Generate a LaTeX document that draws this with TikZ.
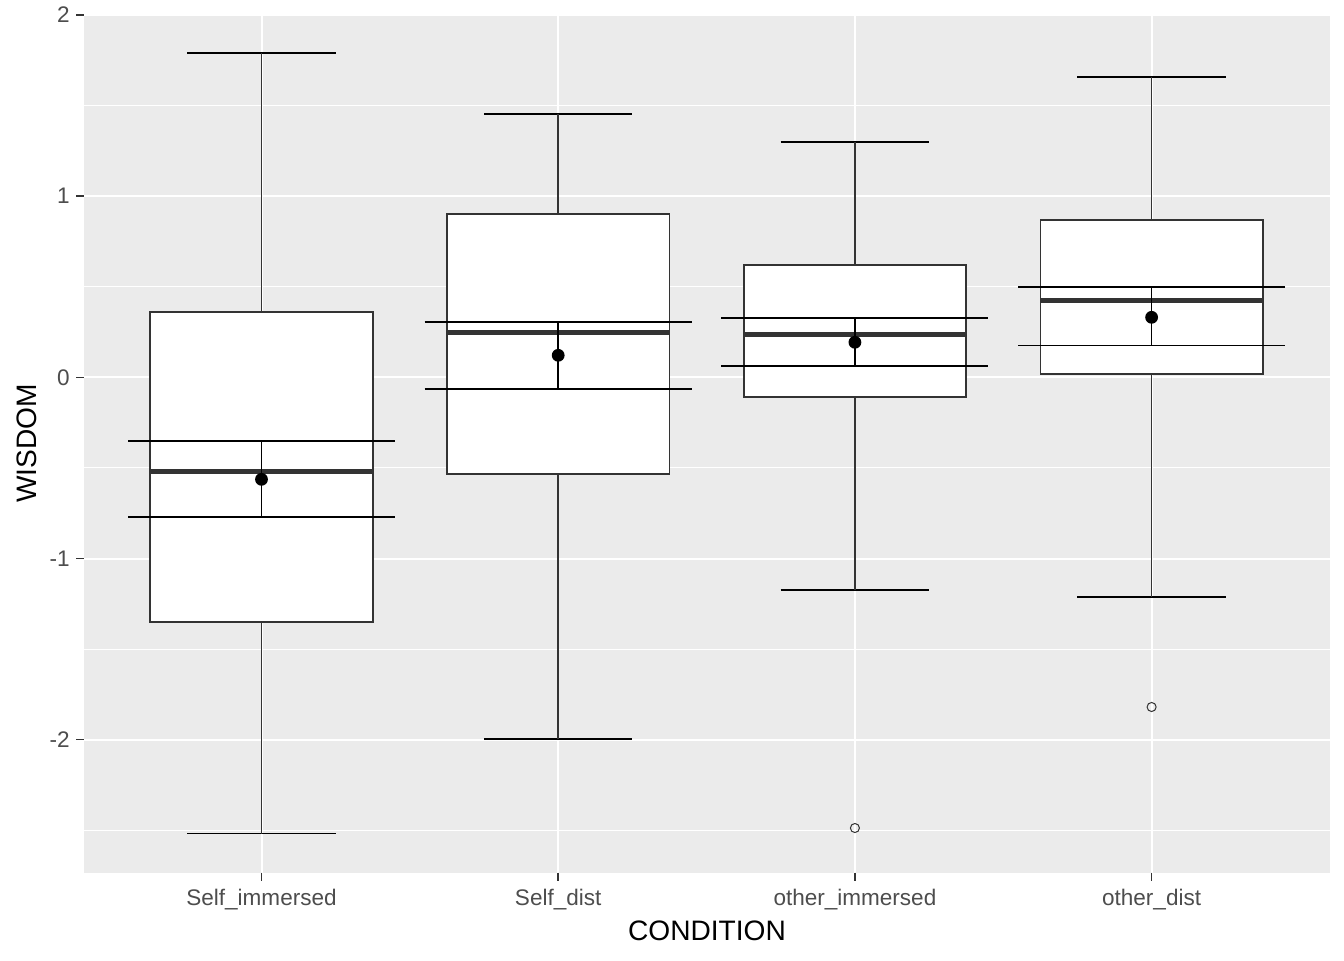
\documentclass[tikz,border=0pt]{standalone}
\usepackage{fontspec}
\setmainfont{Liberation Sans}
\definecolor{panelbg}{HTML}{EBEBEB}
\definecolor{gtwenty}{HTML}{333333}
\definecolor{gthirty}{HTML}{4D4D4D}
\begin{document}
\begin{tikzpicture}[x=0.75pt,y=-0.75pt,
 ticklab/.style={text=gthirty,font=\fontsize{16.9}{18}\selectfont,inner sep=0pt},
 axtitle/.style={text=black,font=\fontsize{21.1}{24}\selectfont,inner sep=0pt},
 majorgrid/.style={white,line width=1.5pt},
 minorgrid/.style={white,line width=0.75pt},
 boxsty/.style={fill=white,draw=gtwenty,line width=1.3pt},
 medsty/.style={gtwenty,line width=3.4pt},
 whisk/.style={gtwenty,line width=1.15pt},
 capsty/.style={black,line width=1.15pt},
 ebsty/.style={black,line width=1.15pt},
 meanpt/.style={circle,fill=black,inner sep=0pt,minimum size=9.6pt},
 outl/.style={circle,draw=gtwenty,line width=0.75pt,inner sep=0pt,minimum size=6.8pt},
 tickmark/.style={gtwenty,line width=1.1pt}]
\useasboundingbox (0,0) rectangle (1344,960);
\fill[white] (0,0) rectangle (1344,960);
% panel
\fill[panelbg] (84,15) rectangle (1330,872.7);
\foreach \yy in {105.5,286.7,467.9,649.1,830.3}
  \draw[minorgrid] (84,\yy) -- (1330,\yy);
\foreach \yy in {15.0,196.1,377.3,558.5,739.7}
  \draw[majorgrid] (84,\yy) -- (1330,\yy);
\foreach \xx in {261.5,558.2,854.9,1151.6}
  \draw[majorgrid] (\xx,15) -- (\xx,872.7);
% boxes
\foreach \i/\cx/\wt/\bt/\md/\bb/\wb/\et/\mn/\eb in {
  1/261.5/53/312/471.3/622.3/833.7/441/479.3/517,
  2/558.2/114/214/332.3/474/739/322/355.3/389,
  3/854.9/142/265/334.3/397.3/590/318/342.3/366,
  4/1151.6/77/220/300.3/373.7/597/287/317.3/345.7}{
  \draw[capsty] (\cx-74.2,\wt) -- (\cx+74.2,\wt);
  \draw[capsty] (\cx-74.2,\wb) -- (\cx+74.2,\wb);
  \draw[whisk] (\cx,\wt) -- (\cx,\wb);
  \draw[boxsty] (\cx-111.25,\bt) rectangle (\cx+111.25,\bb);
  \draw[medsty] (\cx-111.25,\md) -- (\cx+111.25,\md);
  \draw[ebsty] (\cx-133.5,\et) -- (\cx+133.5,\et);
  \draw[ebsty] (\cx-133.5,\eb) -- (\cx+133.5,\eb);
  \draw[ebsty] (\cx,\et) -- (\cx,\eb);
  \node[meanpt] (mean\i) at (\cx,\mn) {};
}
% outliers
\node[outl] (out3) at (854.9,828) {};
\node[outl] (out4) at (1151.6,707) {};
% y axis ticks and labels
\foreach \yy/\lab/\n in {15.0/2/a,196.1/1/b,377.3/0/c,558.5/-1/d,739.7/-2/e}{
  \draw[tickmark] (76,\yy) -- (84,\yy);
  \node[ticklab,anchor=east] (ylab\n) at (70,\yy) {\lab};
}
% x axis ticks and labels
\foreach \xx/\lab/\n in {261.5/Self\_immersed/a,558.2/Self\_dist/b,854.9/other\_immersed/c,1151.6/other\_dist/d}{
  \draw[tickmark] (\xx,872.7) -- (\xx,880.7);
  \node[ticklab,anchor=base] (xlab\n) at (\xx,905.5) {\lab};
}
% axis titles
\node[axtitle,anchor=base] (xtitle) at (707,940) {CONDITION};
\node[axtitle,rotate=90] (ytitle) at (27,443.5) {WISDOM};
\end{tikzpicture}
\end{document}
